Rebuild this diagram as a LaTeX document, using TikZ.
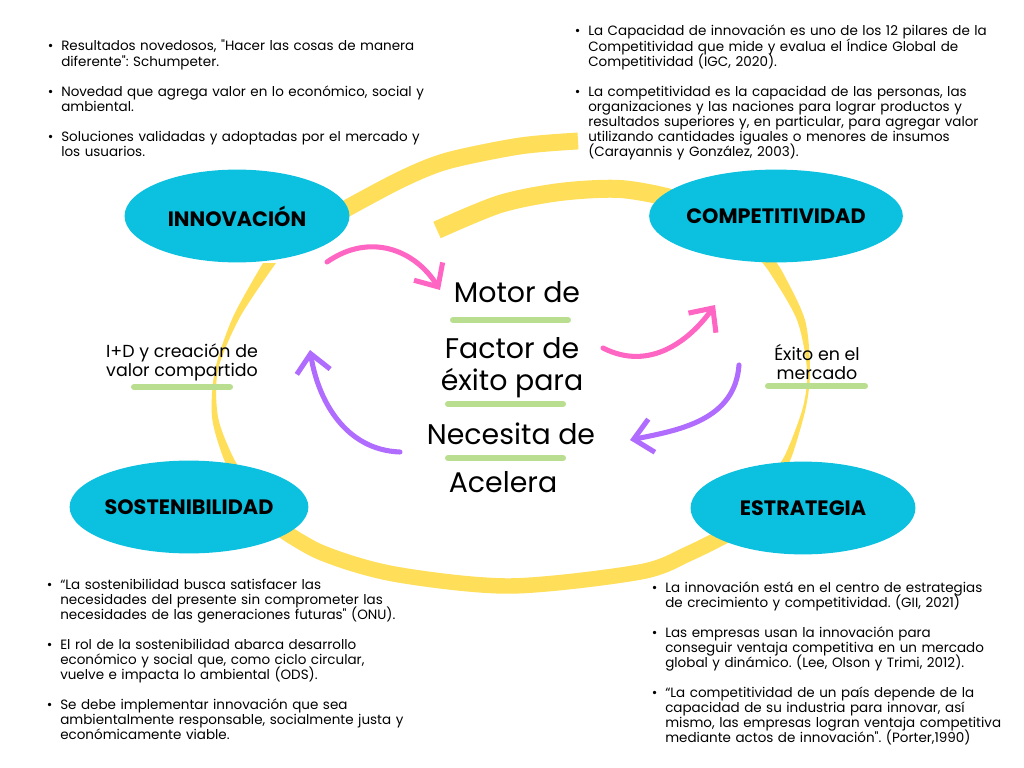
\documentclass[tikz,border=0pt]{standalone}
\usepackage{fontspec}
\setmainfont{Poppins}[Ligatures=TeXOff]
\usetikzlibrary{arrows.meta,shapes.geometric}
\definecolor{cyanblob}{RGB}{12,192,223}
\definecolor{ribbon}{RGB}{255,222,89}
\definecolor{pinkarrow}{RGB}{255,102,196}
\definecolor{purplearrow}{RGB}{176,108,255}
\definecolor{barcolor}{RGB}{186,222,144}
\frenchspacing
\newcommand\itemdot{\leavevmode\llap{\textbullet\kern5.5pt}}
\tikzset{
  blob/.style={ellipse,fill=cyanblob,minimum width=5.62cm,minimum height=2.32cm,inner sep=0,font=\fontsize{14.8}{17}\selectfont\bfseries},
  ribbonline/.style={draw=ribbon,line width=12pt},
  flow/.style={line width=3.6pt,line cap=round,-{Straight Barb[length=13pt,width=24pt]}},
  greenbar/.style={draw=barcolor,line width=4.3pt,line cap=round},
  centertext/.style={font=\fontsize{20.2}{23}\selectfont,inner sep=0},
  notes/.style={font=\fontsize{9.6}{10.7}\selectfont,inner sep=0,anchor=base west,align=left,text width=11cm,
    execute at begin node={\lineskiplimit=-100pt\relax}},
  sidelabel/.style={font=\fontsize{12.4}{13.5}\selectfont,align=center,inner sep=0}
}
\begin{document}
\begin{tikzpicture}[x=0.025cm,y=-0.025cm]
	\useasboundingbox (0,0) rectangle (1024,768);
	% yellow ribbon behind the ellipses
	\draw[ribbonline] plot[smooth] coordinates {(578,141) (520,146) (447,161) (400,180) (340,212)};
	\draw[ribbonline,line width=12.8pt] plot[smooth] coordinates {(437,230) (500,204) (560,192) (620,189) (674,199) (710,215)};
	\draw[ribbonline,line width=11pt] plot[smooth] coordinates {(270,522) (320,552) (394,574) (510,586) (640,572) (690,553) (740,528)};
	\fill[ribbon] plot[smooth] coordinates {(263,263) (233,317) (215,370) (212,417) (223,457) (235,480)}
		-- plot[smooth] coordinates {(248,480) (233,457) (218,417) (218,370) (240,317) (276,263)} -- cycle;
	\fill[ribbon] plot[smooth] coordinates {(773,258) (783,273) (805,320) (810,370) (806,407) (793,453) (783,475)}
		-- plot[smooth] coordinates {(772,475) (786,453) (803,407) (807,370) (797,320) (770,273) (758,258)} -- cycle;
	% the four ellipses
	\node[blob] (inno) at (237,216) {INNOVACIÓN};
	\node[blob] (comp) at (776,216) {COMPETITIVIDAD};
	\node[blob] (sost) at (189,507) {SOSTENIBILIDAD};
	\node[blob] (estr) at (803,508) {ESTRATEGIA};
	% centre words
	\node[centertext] (motor) at (517,292) {Motor de};
	\node[centertext] (factor) at (512,348) {Factor de};
	\node[centertext] (exito) at (512,383) {éxito para};
	\node[centertext] (necesita) at (511,434) {Necesita de};
	\node[centertext] (acelera) at (503,482) {Acelera};
	\draw[greenbar] (453,320) -- (568,320) (448,404) -- (563,404) (448,458) -- (563,458);
	% side labels
	\node[sidelabel] (lblid) at (182,362) {I+D y creación de\\valor compartido};
	\node[sidelabel] (lblexito) at (817,362) {Éxito en el\\mercado};
	\draw[greenbar] (134,387) -- (230,387) (768,386) -- (865,386);
	% arrows
	\coordinate (a1s) at (327,262); \coordinate (a1e) at (440,290);
	\coordinate (a2s) at (603,348); \coordinate (a2e) at (715,305);
	\coordinate (a3s) at (739,365); \coordinate (a3e) at (630,440);
	\coordinate (a4s) at (400,452); \coordinate (a4e) at (310,350);
	\draw[flow,pinkarrow] (a1s) .. controls (370,232) and (415,250) .. (a1e);
	\draw[flow,pinkarrow] (a2s) .. controls (650,372) and (690,340) .. (a2e);
	\draw[flow,purplearrow] (a3s) .. controls (735,420) and (680,430) .. (a3e);
	\draw[flow,purplearrow] (a4s) .. controls (345,450) and (318,400) .. (a4e);
	% bullet notes
	\node[notes] (notesinno) at (61,51) {\itemdot Resultados novedosos, "Hacer las cosas de manera\\
		diferente": Schumpeter.\\[10.7pt]
		\itemdot Novedad que agrega valor en lo económico, social y\\
		ambiental.\\[10.7pt]
		\itemdot Soluciones validadas y adoptadas por el mercado y\\
		los usuarios.};
	\node[notes] (notescomp) at (588,36) {\itemdot La Capacidad de innovación es uno de los 12 pilares de la\\
		Competitividad que mide y evalua el Índice Global de\\
		Competitividad (IGC, 2020).\\[10.7pt]
		\itemdot La competitividad es la capacidad de las personas, las\\
		organizaciones y las naciones para lograr productos y\\
		resultados superiores y, en particular, para agregar valor\\
		utilizando cantidades iguales o menores de insumos\\
		(Carayannis y González, 2003).};
	\node[notes] (notessost) at (60,589) {\itemdot “La sostenibilidad busca satisfacer las\\
		necesidades del presente sin comprometer las\\
		necesidades de las generaciones futuras" (ONU).\\[10.7pt]
		\itemdot El rol de la sostenibilidad abarca desarrollo\\
		económico y social que, como ciclo circular,\\
		vuelve e impacta lo ambiental (ODS).\\[10.7pt]
		\itemdot Se debe implementar innovación que sea\\
		ambientalmente responsable, socialmente justa y\\
		económicamente viable.};
	\node[notes] (notesestr) at (665,592) {\itemdot La innovación está en el centro de estrategias\\
		de crecimiento y competitividad. (GII, 2021)\\[10.7pt]
		\itemdot Las empresas usan la innovación para\\
		conseguir ventaja competitiva en un mercado\\
		global y dinámico. (Lee, Olson y Trimi, 2012).\\[10.7pt]
		\itemdot “La competitividad de un país depende de la\\
		capacidad de su industria para innovar, así\\
		mismo, las empresas logran ventaja competitiva\\
		mediante actos de innovación". (Porter,1990)};
\end{tikzpicture}
\end{document}
